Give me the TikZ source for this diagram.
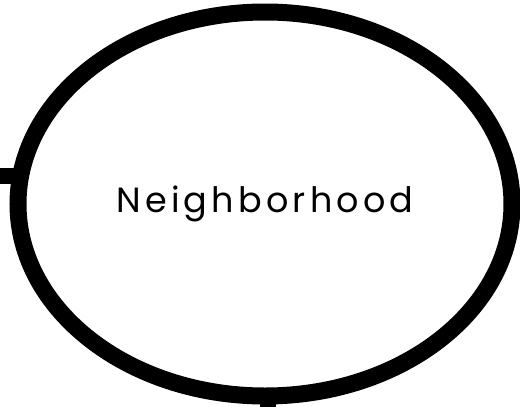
\documentclass[tikz,border=0pt]{standalone}
\usepackage{fontspec}
\newfontfamily\hoodfont{Poppins}[LetterSpace=12]
\usetikzlibrary{shapes.geometric}
\tikzset{
  hood/.style={ellipse, draw, line width=17pt, minimum width=494pt, minimum height=384pt, inner sep=0pt, font=\hoodfont\fontsize{35}{40}\selectfont},
  stub/.style={line width=16pt}
}

\begin{document}
\begin{tikzpicture}[x=1pt, y=-1pt]
  \useasboundingbox (0,0) rectangle (520,407);
  \node[hood] (hood) at (265,204) {Neighborhood};
  \coordinate (lstub) at (0,176);
  \coordinate (bstub) at (268,407);
  % stubs
  \draw[stub] (lstub) -- ([xshift=8pt]lstub -| hood.west);
  \draw[stub] (bstub) -- ([yshift=8pt]bstub |- hood.south);
\end{tikzpicture}
\end{document}
